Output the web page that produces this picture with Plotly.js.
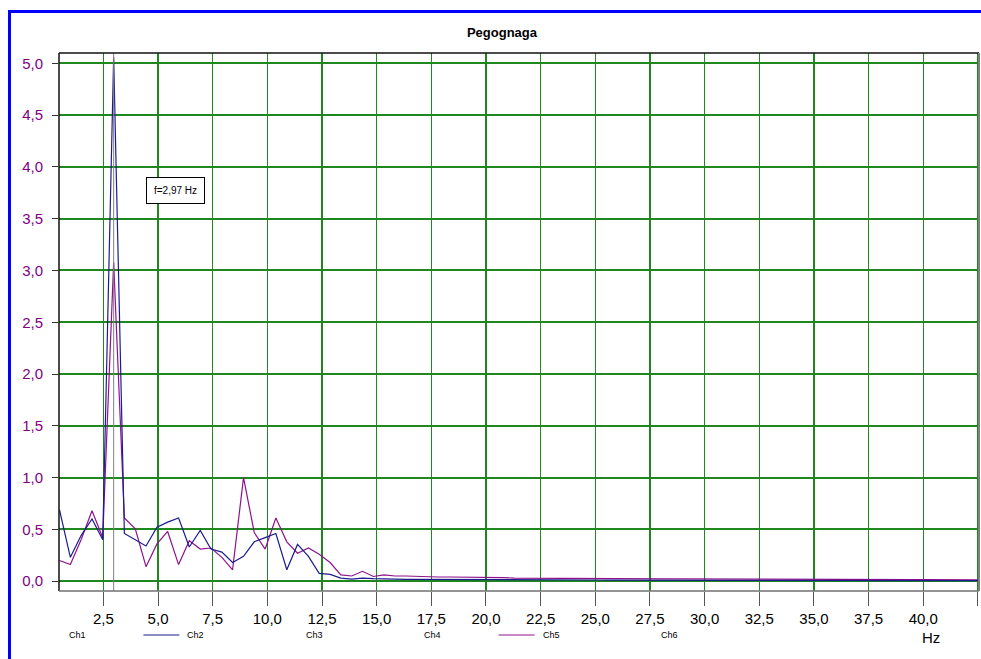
<!DOCTYPE html>
<html>
<head>
<meta charset="utf-8">
<script src="https://cdn.plot.ly/plotly-3.0.1.min.js"></script>
<style>
  html, body { margin: 0; padding: 0; background: #fff; }
  #chart { width: 981px; height: 659px; }
</style>
</head>
<body>
<div id="chart"></div>
<script>
// Spectrum bins (Hz)
var freqs = [0.49, 0.99, 1.48, 1.98, 2.47, 2.97, 3.46, 3.96, 4.45, 4.95,
  5.44, 5.94, 6.43, 6.93, 7.42, 7.92, 8.41, 8.91, 9.40, 9.90,
  10.39, 10.89, 11.38, 11.88, 12.37, 12.87, 13.36, 13.86, 14.35, 14.85,
  15.34, 15.84, 16.33, 16.83, 17.32, 17.82, 18.31, 18.81, 19.30, 19.80,
  20.29, 20.79, 21.28, 21.78, 22.27, 22.77, 23.26, 23.76, 24.25, 24.75,
  25.24, 25.74, 26.23, 26.73, 27.22, 27.72, 28.21, 28.71, 29.20, 29.70,
  30.19, 30.69, 31.18, 31.68, 32.17, 32.67, 33.16, 33.66, 34.15, 34.65,
  35.14, 35.64, 36.13, 36.63, 37.12, 37.62, 38.11, 38.61, 39.10, 39.60,
  40.09, 40.59, 41.08, 41.58, 42.07, 42.57];

// Channel 2 amplitude
var ch2 = [0.69, 0.23, 0.44, 0.60, 0.40, 5.06, 0.46, 0.40, 0.34, 0.52,
  0.57, 0.61, 0.33, 0.49, 0.31, 0.28, 0.18, 0.24, 0.38, 0.42,
  0.46, 0.11, 0.355, 0.24, 0.075, 0.065, 0.03, 0.02, 0.03, 0.025,
  0.02, 0.02, 0.018, 0.018, 0.016, 0.015, 0.015, 0.015, 0.014, 0.014,
  0.013, 0.013, 0.013, 0.012, 0.012, 0.012, 0.012, 0.011, 0.011, 0.011,
  0.011, 0.010, 0.010, 0.010, 0.010, 0.010, 0.010, 0.009, 0.009, 0.009,
  0.009, 0.009, 0.009, 0.009, 0.008, 0.008, 0.008, 0.008, 0.008, 0.008,
  0.008, 0.008, 0.007, 0.007, 0.007, 0.007, 0.007, 0.007, 0.007, 0.007,
  0.007, 0.006, 0.006, 0.006, 0.006, 0.006];

// Channel 5 amplitude
var ch5 = [0.20, 0.16, 0.40, 0.68, 0.42, 3.08, 0.61, 0.505, 0.14, 0.36,
  0.48, 0.16, 0.39, 0.31, 0.32, 0.23, 0.11, 1.00, 0.47, 0.31,
  0.61, 0.38, 0.27, 0.32, 0.26, 0.18, 0.06, 0.05, 0.095, 0.045,
  0.06, 0.05, 0.05, 0.045, 0.045, 0.04, 0.04, 0.04, 0.035, 0.035,
  0.035, 0.035, 0.03, 0.03, 0.03, 0.03, 0.03, 0.028, 0.028, 0.027,
  0.026, 0.025, 0.025, 0.024, 0.024, 0.023, 0.023, 0.022, 0.022, 0.021,
  0.021, 0.02, 0.02, 0.02, 0.019, 0.019, 0.019, 0.018, 0.018, 0.018,
  0.017, 0.017, 0.017, 0.016, 0.016, 0.016, 0.015, 0.015, 0.015, 0.015,
  0.014, 0.014, 0.014, 0.014, 0.013, 0.013];

var legendNames = ['Ch1', 'Ch2', 'Ch3', 'Ch4', 'Ch5', 'Ch6'];
var legendColors = [null, '#1c1c8e', null, null, '#8e128e', null];
var peakFreq = 2.97;
var peakLabel = 'f=2,97 Hz';

var FONT = 'Arial, "Liberation Sans", sans-serif';
var GRID = 'rgb(30,135,30)';

var traces = [
  { x: freqs, y: ch5, type: 'scatter', mode: 'lines', name: 'Ch5',
    line: { color: legendColors[4], width: 1.2 }, hoverinfo: 'x+y' },
  { x: freqs, y: ch2, type: 'scatter', mode: 'lines', name: 'Ch2',
    line: { color: legendColors[1], width: 1.2 }, hoverinfo: 'x+y' }
];

// plot area in pixels: left 59, right 979, top 53, bottom 591
var W = 981, H = 659, L = 59, R = 2, T = 53, B = 68;
var pw = W - L - R, ph = H - T - B;
function px2paperX(px) { return (px - L) / pw; }
function px2paperY(py) { return (H - B - py) / ph; }

var shapes = [
  // outer blue frame
  { type: 'rect', xref: 'paper', yref: 'paper',
    x0: px2paperX(9.5), x1: px2paperX(1010), y0: px2paperY(700), y1: px2paperY(11.5),
    line: { color: '#0000ff', width: 3 }, layer: 'below' },
  // cursor line at the peak
  { type: 'line', xref: 'x', yref: 'paper', x0: peakFreq, x1: peakFreq, y0: 0, y1: 1,
    line: { color: '#808080', width: 1 }, layer: 'above' },
  // plot frame: top/left black, bottom/right grey
  { type: 'line', xref: 'paper', yref: 'paper', x0: 0, x1: 1, y0: 1, y1: 1,
    line: { color: '#111', width: 1.5 } },
  { type: 'line', xref: 'paper', yref: 'paper', x0: 0, x1: 0, y0: 0, y1: 1,
    line: { color: '#111', width: 1.5 } },
  { type: 'line', xref: 'paper', yref: 'paper', x0: 0, x1: 1, y0: 0, y1: 0,
    line: { color: '#707070', width: 1.5 } },
  { type: 'line', xref: 'paper', yref: 'paper', x0: 1, x1: 1, y0: 0, y1: 1,
    line: { color: '#808080', width: 2 } }
];

var annotations = [
  { xref: 'x', yref: 'y', x: 5.8, y: 3.77, text: peakLabel, showarrow: false,
    font: { family: FONT, size: 10, color: '#000' },
    bgcolor: '#fff', bordercolor: '#000', borderwidth: 1, borderpad: 7,
    xanchor: 'center', yanchor: 'middle' },
  { xref: 'paper', yref: 'paper', x: px2paperX(931), y: px2paperY(637), text: 'Hz',
    showarrow: false, font: { family: FONT, size: 15, color: '#000' },
    xanchor: 'center', yanchor: 'middle' }
];

// bottom legend row
var legendStart = 67, legendStep = 118.4, legendY = 635;
legendNames.forEach(function (name, i) {
  var tx = legendStart + i * legendStep;
  annotations.push({ xref: 'paper', yref: 'paper', x: px2paperX(tx), y: px2paperY(legendY),
    text: name, showarrow: false, xanchor: 'left', yanchor: 'middle',
    font: { family: FONT, size: 9, color: '#000' } });
  if (legendColors[i]) {
    shapes.push({ type: 'line', xref: 'paper', yref: 'paper',
      x0: px2paperX(tx - 42), x1: px2paperX(tx - 6),
      y0: px2paperY(legendY), y1: px2paperY(legendY),
      line: { color: legendColors[i], width: 1.2 } });
  }
});

var layout = {
  width: W, height: H,
  margin: { l: L, r: R, t: T, b: B, pad: 0 },
  paper_bgcolor: '#fff', plot_bgcolor: '#fff',
  separators: ',.',
  showlegend: false,
  title: { text: '<b>Pegognaga</b>', xref: 'container', yref: 'container',
    x: 502 / W, y: 1 - 32 / H, xanchor: 'center', yanchor: 'middle',
    font: { family: FONT, size: 13, color: '#000' } },
  xaxis: {
    range: [0.47, 42.55], tick0: 0, dtick: 2.5, tickformat: '.1f',
    showgrid: true, gridcolor: GRID, gridwidth: 1.5, zeroline: false,
    ticks: 'outside', ticklen: 14, tickwidth: 1, tickcolor: '#555',
    showline: false,
    tickfont: { family: FONT, size: 15, color: '#000' }
  },
  yaxis: {
    range: [-0.095, 5.1], tick0: 0, dtick: 0.5, tickformat: '.1f',
    showgrid: true, gridcolor: GRID, gridwidth: 2, zeroline: false,
    ticks: 'outside', ticklen: 6, tickwidth: 1, tickcolor: '#333',
    showline: false, ticklabelstandoff: 6,
    tickfont: { family: FONT, size: 15, color: '#800080' }
  },
  shapes: shapes,
  annotations: annotations
};

Plotly.newPlot('chart', traces, layout, { staticPlot: true, displayModeBar: false });
</script>
</body>
</html>
